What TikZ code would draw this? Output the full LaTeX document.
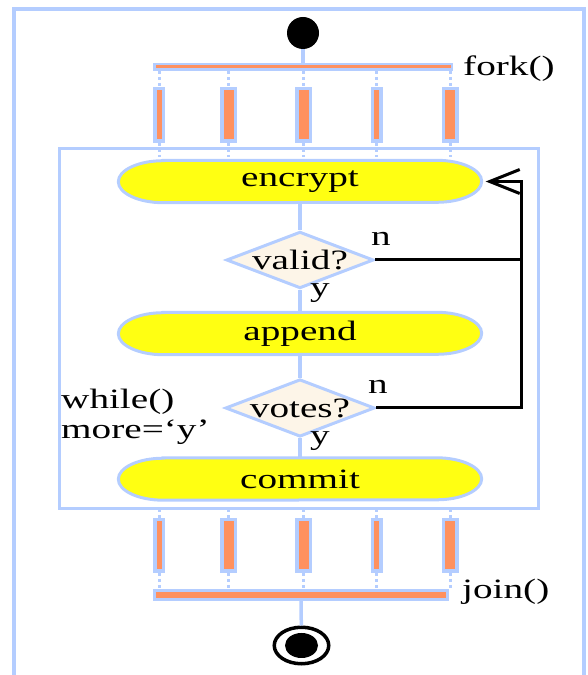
\documentclass[tikz,border=0pt]{standalone}
\usepackage{fontspec}
\setmainfont[FakeStretch=1.4]{Liberation Serif}
\usetikzlibrary{shapes.geometric,arrows.meta,backgrounds}

\definecolor{lblue}{RGB}{180,205,255}
\definecolor{barorange}{RGB}{255,145,95}
\definecolor{pillyellow}{RGB}{255,255,18}
\definecolor{cream}{RGB}{253,245,232}

% yellow pill with long rounded ends, drawn behind node #1
\newcommand{\pillback}[1]{%
  \begin{pgfonlayer}{background}
  \filldraw[draw=lblue, fill=pillyellow, line width=3pt]
    ([xshift=45pt]#1.north west) -- ([xshift=-45pt]#1.north east)
    arc[start angle=90, end angle=-90, x radius=45pt, y radius=21pt]
    -- ([xshift=45pt]#1.south west)
    arc[start angle=270, end angle=90, x radius=45pt, y radius=21pt] -- cycle;
  \end{pgfonlayer}}

\begin{document}
\begin{tikzpicture}[x=1pt, y=1pt,
  font=\fontsize{28}{30}\selectfont,
  flow/.style={draw=lblue, line width=3.5pt},
  dots/.style={draw=lblue, line width=3pt, dash pattern=on 3pt off 3pt},
  back/.style={draw=black, line width=3pt},
  bar/.style={draw=lblue, fill=barorange, line width=3.5pt, inner sep=0pt},
  pill/.style={minimum width=363pt, minimum height=42pt, inner sep=0pt},
  test/.style={diamond, aspect=2.6, draw=lblue, fill=cream, line width=3pt,
    minimum width=146pt, minimum height=56pt, inner sep=0pt},
  lbl/.style={inner sep=0pt}]
\useasboundingbox (0,0) rectangle (587,675);
\clip (0,0) rectangle (587,675);

% frames
\draw[lblue, line width=4pt] (14,-10) -- (14,665.5) -- (584,665.5) -- (584,-10);
\draw[lblue, line width=3pt] (59.5,166) rectangle (538.5,526.5);

% start and fork
\node[circle, fill=black, minimum size=32pt, inner sep=0pt] (start) at (303,642) {};
\node[bar, line width=2.5pt, minimum width=297.5pt, minimum height=5.5pt] (fork) at (303,608) {};
\node[lbl, anchor=west] (forklbl) at (463,606) {fork()};
\draw[flow] (start) -- (fork);

\foreach \i/\x/\w in {1/159/8.5, 2/228.5/13.5, 3/303.5/13.5, 4/376.5/8.5, 5/450/13.5} {
  \node[bar, minimum width=\w pt, minimum height=52.5pt] (tb\i) at (\x,560) {};
  \draw[dots] (fork.south -| tb\i.north) -- (tb\i.north);
  \draw[dots] (tb\i.south) -- ++(0,-14);
}

% loop body
\node[pill] (enc) at (300,493.5) {encrypt};
\node[test] (valid) at (300,415) {valid?};
\node[pill] (app) at (300,341.5) {append};
\node[test] (votes) at (300,267) {votes?};
\node[pill] (com) at (300,196) {commit};
\pillback{enc}
\pillback{app}
\pillback{com}

\draw[flow] (enc.south) -- (valid.north);
\draw[flow] (valid.south) -- (app.north);
\draw[flow] (app.south) -- (votes.north);
\draw[flow] (votes.south) -- (com.north);

\node[lbl] (n1) at (381,436) {n};
\node[lbl] (y1) at (320,382) {y};
\node[lbl] (n2) at (378,288) {n};
\node[lbl] (y2) at (320,234) {y};
\node[lbl, anchor=west, align=left] (cond) at (61,258) {while()\\more=`y'};

% back edges to encrypt
\coordinate (rail) at ([xshift=40pt]enc.east);
\draw[back] (valid.east) -- (valid.east -| rail);
\draw[back, -{Straight Barb[length=30pt, width=24pt]}, shorten >=4pt]
  (votes.east) -| (rail) -- (enc.east);

% join and end
\node[bar, line width=3pt, minimum width=293pt, minimum height=9pt] (join) at (301,80) {};
\node[lbl, anchor=west] (joinlbl) at (462,83) {join()};

\foreach \i/\x/\w in {1/159/8.5, 2/228.5/13.5, 3/303.5/13.5, 4/376.5/8.5, 5/450/13.5} {
  \node[bar, minimum width=\w pt, minimum height=51.5pt] (bb\i) at (\x,129.5) {};
  \draw[dots] (bb\i.north) -- ++(0,12);
  \draw[dots] (bb\i.south) -- (bb\i.south |- join.north);
}

\node[ellipse, draw=black, line width=3.5pt, minimum width=54.5pt, minimum height=36.5pt,
  inner sep=0pt] (end) at (301.5,29.5) {};
\fill (end.center) ellipse[x radius=16.5, y radius=12.5];
\draw[flow] (join) -- (end);
\end{tikzpicture}
\end{document}
